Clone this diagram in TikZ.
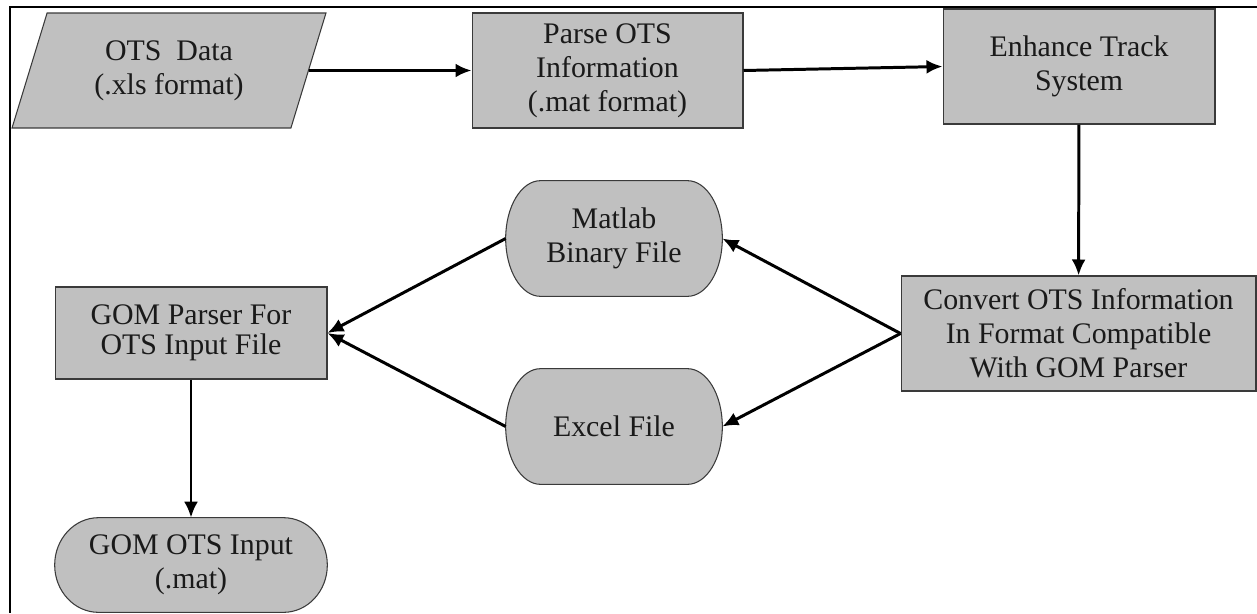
\documentclass[tikz,border=0pt]{standalone}
\usepackage{fontspec}
\setmainfont{Liberation Serif}
\usepackage{xcolor}
\usepackage{tikz}
\usetikzlibrary{arrows.meta,positioning,shapes.geometric,calc,backgrounds}
\definecolor{cBox}{HTML}{C0C0C0}
\definecolor{cEdge}{HTML}{3A3A3A}
\definecolor{cText}{HTML}{1A1A1A}
\tikzset{
  procbox/.style={draw=cEdge, fill=cBox, line width=0.6pt, align=center, text=cText,
                  minimum height=2.3cm, inner sep=2pt},
  iobox/.style  ={trapezium, trapezium left angle=62.4, trapezium right angle=117.6,
                  trapezium stretches body, draw=cEdge, fill=cBox, line width=0.6pt,
                  align=center, text=cText, minimum height=2.3cm, inner sep=2pt},
  term/.style   ={align=center, text=cText, minimum height=2.3cm, inner sep=2pt},
  termline/.style={draw=cEdge, fill=cBox, line width=0.6pt},
  arrow/.style  ={-{Latex[length=3.2mm,width=2.8mm]}, line width=1.7pt, draw=black},
}
\newcommand{\termshape}[1]{%
  \begin{scope}[on background layer]
    \path[termline] let \p1=(#1.north west), \p2=(#1.south east),
      \n1={(\y1-\y2)/2}, \n2={0.161*(\x2-\x1)} in
      (\x1+\n2,\y1) -- (\x2-\n2,\y1)
      arc[start angle=90, end angle=-90, x radius=\n2, y radius=\n1]
      -- (\x1+\n2,\y2)
      arc[start angle=270, end angle=90, x radius=\n2, y radius=\n1] -- cycle;
  \end{scope}}

\begin{document}
\begin{tikzpicture}[x=0.02cm, y=-0.02cm, every node/.style={font=\fontsize{17pt}{19.3pt}\selectfont}]
  \useasboundingbox (0,0) rectangle (1257,613);
  \draw[line width=1.1pt] (1257,7) -- (10,7) -- (10,613);

  \node[iobox, minimum width=6.28cm] (data) at (169,70.5){OTS\ \ Data\\(.xls format)};
  \node[procbox, minimum width=5.42cm] (parse) at (607.5,70.5){Parse OTS\\Information\\(.mat format)};
  \node[procbox, minimum width=5.44cm] (enh) at (1079,66.5){Enhance Track\\System};
  \node[procbox, minimum width=7.1cm] (conv) at (1078.5,333.5){Convert OTS Information\\In Format Compatible\\With GOM Parser};
  \node[term, minimum width=4.32cm] (matlab) at (614,238.5){Matlab\\Binary File};
  \node[term, minimum width=4.32cm] (excel) at (614,426.5){Excel File};
  \node[procbox, minimum width=5.44cm, minimum height=1.84cm,
        font=\fontsize{17pt}{17pt}\selectfont] (gomp) at (191,333){GOM Parser For\\OTS Input File};
  \node[term, minimum width=5.44cm, minimum height=1.88cm] (gomin) at (191,565){GOM OTS Input\\(.mat)};
  \termshape{matlab}
  \termshape{excel}
  \termshape{gomin}

  \draw[arrow] (data) -- (parse);
  \draw[arrow] (parse.east) -- (enh.west);
  \draw[arrow] (enh) -- (conv);
  \draw[arrow] (conv.west) -- (matlab.east);
  \draw[arrow] (conv.west) -- (excel.east);
  \draw[arrow] (matlab.west) -- (gomp.east);
  \draw[arrow] (excel.west) -- (gomp.east);
  \draw[arrow] (gomp) -- (gomin);
\end{tikzpicture}
\end{document}
